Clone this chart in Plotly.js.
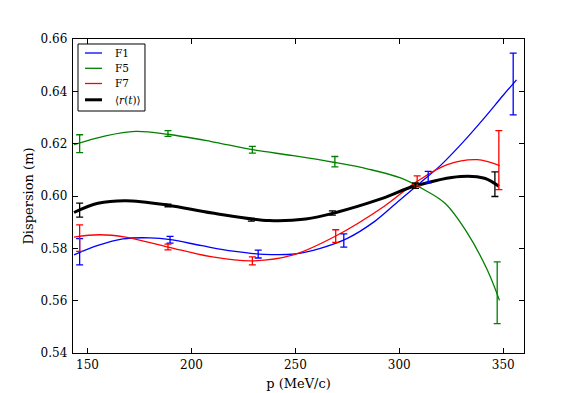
<!DOCTYPE html>
<html>
<head>
<meta charset="utf-8">
<script src="https://cdn.plot.ly/plotly-3.0.1.min.js"></script>
<style>html,body{margin:0;padding:0;background:#fff;}#chart{width:582px;height:393px;}</style>
</head>
<body>
<div id="chart"></div>
<script>
// Measured points with error bars
const F1_x = [146.2, 189.7, 232.1, 273.3, 313.9, 354.8];
const F1_y = [0.5787, 0.5833, 0.5778, 0.5830, 0.6072, 0.6428];
const F1_err = [0.0050, 0.0013, 0.0015, 0.0025, 0.0022, 0.0118];

const F5_x = [146.2, 188.7, 229.3, 269.0, 307.8, 347.1];
const F5_y = [0.6200, 0.6239, 0.6177, 0.6131, 0.6039, 0.5630];
const F5_err = [0.0034, 0.0011, 0.0013, 0.0020, 0.0010, 0.0118];

const F7_x = [146.2, 188.7, 229.3, 269.4, 308.6, 347.9];
const F7_y = [0.5839, 0.5805, 0.5752, 0.5847, 0.6058, 0.6137];
const F7_err = [0.0051, 0.0011, 0.0015, 0.0024, 0.0019, 0.0113];

const R_x = [146.2, 188.7, 228.8, 267.8, 307.8, 346.0];
const R_y = [0.5946, 0.5964, 0.5909, 0.5935, 0.6039, 0.6045];
const R_err = [0.0027, 0.0005, 0.0005, 0.0008, 0.0010, 0.0047];

// Fitted curves
const F1_cx = [143.5, 155.0, 167.0, 180.0, 190.0, 205.0, 220.0, 235.0, 250.0, 262.0, 275.0, 288.0, 300.0, 310.0, 320.0, 330.0, 340.0, 350.0, 356.4];
const F1_cy = [0.5775, 0.5811, 0.5836, 0.5840, 0.5833, 0.5810, 0.5789, 0.5777, 0.5779, 0.5800, 0.5838, 0.5902, 0.5983, 0.6050, 0.6118, 0.6200, 0.6290, 0.6385, 0.6444];

const F5_cx = [143.5, 158.7, 173.1, 188.7, 209.0, 229.3, 249.0, 269.0, 285.0, 300.6, 312.0, 322.0, 332.7, 342.3, 348.2];
const F5_cy = [0.6196, 0.6230, 0.6247, 0.6236, 0.6209, 0.6177, 0.6154, 0.6128, 0.6103, 0.6069, 0.6024, 0.5972, 0.5859, 0.5718, 0.5601];

const F7_cx = [143.5, 155.5, 168.3, 188.7, 210.1, 229.3, 249.0, 269.4, 292.6, 308.6, 323.1, 337.5, 348.3];
const F7_cy = [0.5843, 0.5852, 0.5843, 0.5805, 0.5767, 0.5752, 0.5775, 0.5847, 0.5960, 0.6056, 0.6120, 0.6139, 0.6116];

const R_cx = [143.5, 155.0, 168.3, 188.7, 210.0, 237.4, 255.0, 270.0, 290.0, 307.8, 329.5, 341.0, 347.9];
const R_cy = [0.5937, 0.5972, 0.5982, 0.5965, 0.5935, 0.5906, 0.5912, 0.5938, 0.5986, 0.6039, 0.6075, 0.6068, 0.6037];

const xTicks = [150, 200, 250, 300, 350];
const yTicks = [0.54, 0.56, 0.58, 0.60, 0.62, 0.64, 0.66];
const names = ['F1', 'F5', 'F7', '⟨<i>r</i>(<i>t</i>)⟩'];
const colors = ['#0000ff', '#008000', '#ff0000', '#000000'];

const curves = [[F1_cx, F1_cy], [F5_cx, F5_cy], [F7_cx, F7_cy], [R_cx, R_cy]];
const pts = [[F1_x, F1_y, F1_err], [F5_x, F5_y, F5_err], [F7_x, F7_y, F7_err], [R_x, R_y, R_err]];
const widths = [1.3, 1.3, 1.3, 3];

const traces = [];
curves.forEach((c, i) => {
  traces.push({
    x: c[0], y: c[1], type: 'scatter', mode: 'lines', name: names[i],
    line: {color: colors[i], width: widths[i], shape: 'spline', smoothing: 1},
    showlegend: false, hoverinfo: 'skip'
  });
});
pts.forEach((p, i) => {
  traces.push({
    x: p[0], y: p[1], type: 'scatter', mode: 'markers',
    marker: {size: 4, color: colors[i], opacity: 0},
    error_y: {type: 'data', array: p[2], visible: true, color: colors[i], thickness: 1.3, width: 3.5},
    showlegend: false, hoverinfo: 'skip'
  });
});

const fam = 'DejaVu Serif';
const font = {family: fam, size: 13, color: '#000'};
const tickFont = {family: fam, size: 12, color: '#000'};
const axisCommon = {
  showline: true, linecolor: '#000', linewidth: 1.3, mirror: 'allticks',
  ticks: 'inside', ticklen: 5, tickwidth: 1, tickcolor: '#000',
  showgrid: false, zeroline: false, tickfont: tickFont
};

// Legend box drawn in paper coordinates (upper-left, like the reference)
const legX0 = 0.0111, legX1 = 0.1596, legY0 = 0.7707, legY1 = 0.9841;
const legRowY = [0.9554, 0.9067, 0.8583, 0.8064];
const legLineX = [0.0266, 0.0643], legTextX = 0.0887;

const shapes = [{type: 'rect', xref: 'paper', yref: 'paper', x0: legX0, x1: legX1, y0: legY0, y1: legY1,
  line: {color: '#000', width: 1}, fillcolor: '#fff', layer: 'above'}];
const annotations = [];
names.forEach((n, i) => {
  shapes.push({type: 'line', xref: 'paper', yref: 'paper', x0: legLineX[0], x1: legLineX[1], y0: legRowY[i], y1: legRowY[i],
    line: {color: colors[i], width: widths[i]}, layer: 'above'});
  annotations.push({xref: 'paper', yref: 'paper', x: legTextX, y: legRowY[i], xanchor: 'left', yanchor: 'middle',
    text: n, showarrow: false, font: {family: fam, size: 10.5, color: '#000'}});
});

const layout = {
  width: 582, height: 393,
  margin: {l: 73, r: 58, t: 39, b: 40},
  paper_bgcolor: '#fff', plot_bgcolor: '#fff',
  font: font,
  showlegend: false,
  shapes: shapes,
  annotations: annotations,
  xaxis: Object.assign({}, axisCommon, {
    range: [143, 360], tickvals: xTicks, ticktext: xTicks.map(String),
    title: {text: 'p (MeV/c)', font: font, standoff: 8}
  }),
  yaxis: Object.assign({}, axisCommon, {
    range: [0.54, 0.66], tickvals: yTicks, ticktext: yTicks.map(v => v.toFixed(2)),
    ticklabelstandoff: 2,
    title: {text: 'Dispersion (m)', font: font, standoff: 4}
  })
};

Plotly.newPlot('chart', traces, layout, {displayModeBar: false, staticPlot: true});
</script>
</body>
</html>
